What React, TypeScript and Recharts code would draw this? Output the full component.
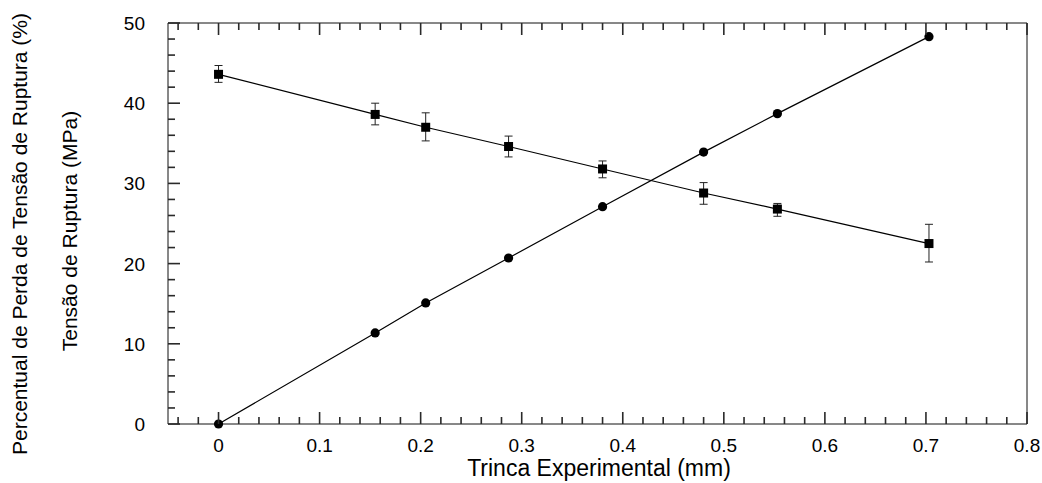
import React from "react";
import { ComposedChart, Line, XAxis, YAxis, ErrorBar, Label } from "recharts";

// trinca experimental (mm)
const trinca = [0, 0.155, 0.205, 0.287, 0.38, 0.48, 0.553, 0.703];
// tensão de ruptura (MPa), with [below, above] error
const tensao = [43.6, 38.6, 37.0, 34.6, 31.8, 28.8, 26.8, 22.5];
const tensaoErro = [
  [1.0, 1.1],
  [1.3, 1.4],
  [1.7, 1.8],
  [1.3, 1.3],
  [1.1, 1.0],
  [1.4, 1.3],
  [0.9, 0.7],
  [2.3, 2.4],
];
// percentual de perda de tensão (%)
const perda = [0, 11.35, 15.1, 20.7, 27.1, 33.9, 38.7, 48.3];

const xMajor = [0, 0.1, 0.2, 0.3, 0.4, 0.5, 0.6, 0.7, 0.8];
const xMinor = [
  -0.04, -0.02, 0.02, 0.04, 0.06, 0.08, 0.12, 0.14, 0.16, 0.18, 0.22, 0.24,
  0.26, 0.28, 0.32, 0.34, 0.36, 0.38, 0.42, 0.44, 0.46, 0.48, 0.52, 0.54,
  0.56, 0.58, 0.62, 0.64, 0.66, 0.68, 0.72, 0.74, 0.76, 0.78,
];
const yMajor = [0, 10, 20, 30, 40, 50];
const yMinor = [
  2, 4, 6, 8, 12, 14, 16, 18, 22, 24, 26, 28, 32, 34, 36, 38, 42, 44, 46, 48,
];

const xTicks = [...xMinor, ...xMajor].sort((a, b) => a - b);
const yTicks = [...yMinor, ...yMajor].sort((a, b) => a - b);

const data = trinca.map((x, i) => ({
  x,
  tensao: tensao[i],
  erro: tensaoErro[i],
  perda: perda[i],
}));

const FONT = "'Liberation Sans', Arial, Helvetica, sans-serif";
const INK = "#111";
const TICK = "#2a2a2a";

// ticks point into the plot, drawn as thin filled rects; labels only on bottom/left majors
function renderXTick(props: any, side: string) {
  const x = Number(props.x);
  const y = Number(props.y);
  const v = props.payload.value;
  const major = xMajor.includes(v);
  const len = major ? 12 : 7;
  const top = side === "top" ? y : y - len;
  return (
    <g>
      <rect x={x - 0.8} y={top} width={1.6} height={len} fill={TICK} />
      {side === "bottom" && major && (
        <text x={x} y={y + 28} textAnchor="middle" fontSize={19} fontFamily={FONT} fill="#000">
          {v}
        </text>
      )}
    </g>
  );
}

function renderYTick(props: any, side: string) {
  const x = Number(props.x);
  const y = Number(props.y);
  const v = props.payload.value;
  const major = yMajor.includes(v);
  const len = major ? 12 : 7;
  const left = side === "left" ? x : x - len;
  return (
    <g>
      <rect x={left} y={y - 0.8} width={len} height={1.6} fill={TICK} />
      {side === "left" && major && (
        <text x={x - 23} y={y + 7} textAnchor="end" fontSize={19} fontFamily={FONT} fill="#000">
          {v}
        </text>
      )}
    </g>
  );
}

function SquareDot(props: any) {
  const { cx, cy, index } = props;
  if (cx == null || cy == null) return <g key={index} />;
  return <rect key={index} x={cx - 4.5} y={cy - 4.5} width={9} height={9} fill="#000" />;
}

function CircleDot(props: any) {
  const { cx, cy, index } = props;
  if (cx == null || cy == null) return <g key={index} />;
  return <circle key={index} cx={cx} cy={cy} r={4.6} fill="#000" />;
}

function rotatedTitle(text: string, x: number, y: number) {
  return () => (
    <text x={x} y={y} transform={`rotate(-90, ${x}, ${y})`} textAnchor="middle" fontSize={21} fontFamily={FONT} fill="#000">
      {text}
    </text>
  );
}

export default function App() {
  return (
    <div style={{ position: "absolute", left: 0, top: 0, width: 1042, height: 483, background: "#fff" }}>
      <ComposedChart width={1042} height={483} data={data} margin={{ top: 0, right: 0, bottom: 0, left: 0 }}>
        <XAxis
          xAxisId="bottom"
          dataKey="x"
          type="number"
          domain={[-0.05, 0.8]}
          ticks={xTicks}
          interval={0}
          height={59}
          tickSize={0}
          tickMargin={0}
          axisLine={{ stroke: INK }}
          tickLine={false}
          tick={(p: any) => renderXTick(p, "bottom")}
        >
          <Label
            content={() => (
              <text x={599} y={476} textAnchor="middle" fontSize={23} fontFamily={FONT} fill="#000">
                Trinca Experimental (mm)
              </text>
            )}
          />
        </XAxis>
        <XAxis
          xAxisId="top"
          orientation="top"
          dataKey="x"
          type="number"
          domain={[-0.05, 0.8]}
          ticks={xTicks}
          interval={0}
          height={23}
          tickSize={0}
          tickMargin={0}
          axisLine={{ stroke: INK }}
          tickLine={false}
          tick={(p: any) => renderXTick(p, "top")}
        />
        <YAxis
          yAxisId="left"
          type="number"
          domain={[0, 50]}
          ticks={yTicks}
          interval={0}
          width={168}
          tickSize={0}
          tickMargin={0}
          axisLine={{ stroke: INK }}
          tickLine={false}
          tick={(p: any) => renderYTick(p, "left")}
        >
          <Label content={rotatedTitle("Percentual de Perda de Tensão de Ruptura (%)", 27, 234)} />
          <Label content={rotatedTitle("Tensão de Ruptura (MPa)", 77, 231)} />
        </YAxis>
        <YAxis
          yAxisId="right"
          orientation="right"
          type="number"
          domain={[0, 50]}
          ticks={yTicks}
          interval={0}
          width={15}
          tickSize={0}
          tickMargin={0}
          axisLine={{ stroke: INK }}
          tickLine={false}
          tick={(p: any) => renderYTick(p, "right")}
        />
        <Line xAxisId="bottom" yAxisId="left" type="linear" dataKey="tensao" stroke="#000" strokeWidth={1.2} dot={SquareDot} activeDot={false} isAnimationActive={false}>
          <ErrorBar dataKey="erro" direction="y" width={4} stroke="#222" strokeWidth={1} isAnimationActive={false} />
        </Line>
        <Line xAxisId="bottom" yAxisId="left" type="linear" dataKey="perda" stroke="#000" strokeWidth={1.2} dot={CircleDot} activeDot={false} isAnimationActive={false} />
      </ComposedChart>
    </div>
  );
}
